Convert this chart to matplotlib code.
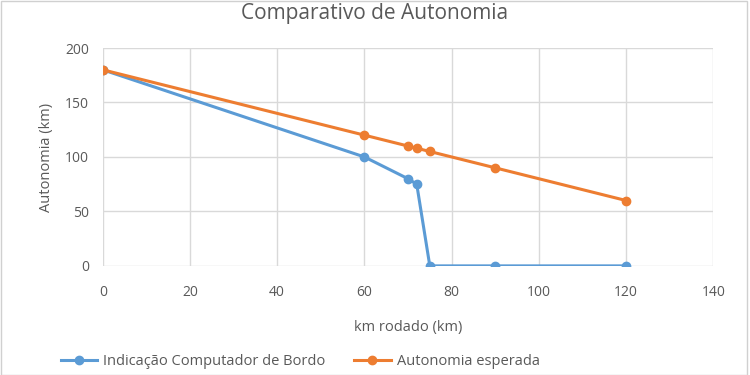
import matplotlib.pyplot as plt
from matplotlib.patches import Rectangle

km_bordo = [0, 60, 70, 72, 75, 90, 120]
autonomia_bordo = [180, 100, 80, 75, 0, 0, 0]
km_esperada = [0, 60, 70, 72, 75, 90, 120]
autonomia_esperada = [180, 120, 110, 108, 105, 90, 60]

BLUE = '#5B9BD5'
ORANGE = '#ED7D31'
TEXT = '#595959'
GRID = '#D9D9D9'

plt.rcParams['font.family'] = ['Open Sans', 'DejaVu Sans']

fig = plt.figure(figsize=(7.5, 3.75), dpi=100)
ax = fig.add_axes([0.137, 0.291, 0.814, 0.581])

ax.plot(km_bordo, autonomia_bordo, color=BLUE, lw=2.2, marker='o', ms=6,
        label='Indicação Computador de Bordo', zorder=3)
ax.plot(km_esperada, autonomia_esperada, color=ORANGE, lw=2.2, marker='o', ms=6,
        label='Autonomia esperada', zorder=3)

ax.set_xlim(0, 140)
ax.set_ylim(0, 200)
ax.set_xticks(range(0, 141, 20))
ax.set_yticks(range(0, 201, 50))
ax.grid(True, color=GRID, lw=1)
for s in ax.spines.values():
    s.set_visible(False)
ax.tick_params(length=0, colors=TEXT, labelsize=10)
ax.tick_params(axis='x', pad=14)
ax.tick_params(axis='y', pad=10)

fig.text(0.5, 0.965, 'Comparativo de Autonomia', color=TEXT, fontsize=15,
         ha='center', va='center')
ax.set_xlabel('km rodado (km)', color=TEXT, fontsize=10.5, labelpad=14)
ax.set_ylabel('Autonomia (km)', color=TEXT, fontsize=10.5, labelpad=8)

ax.legend(loc='center', bbox_to_anchor=(0.4, 0.035), bbox_transform=fig.transFigure,
          ncol=2, frameon=False, fontsize=10.5, labelcolor=TEXT, columnspacing=2,
          handlelength=2.5, handletextpad=0.4, borderpad=0)

fig.patches.append(Rectangle((0.001, 0.0), 0.995, 0.997, transform=fig.transFigure,
                             fill=False, edgecolor='#D0D0D0', lw=1))

fig.savefig('out.png', dpi=100)
